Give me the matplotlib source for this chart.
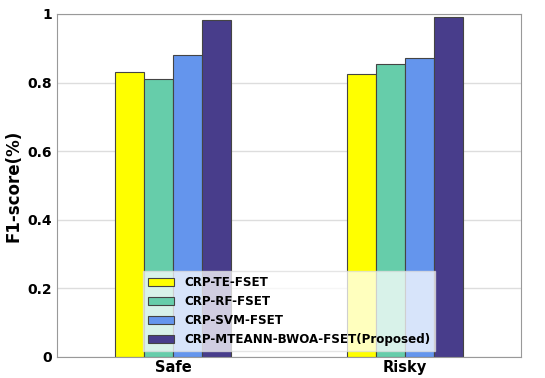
import matplotlib.pyplot as plt
import numpy as np

categories = ["Safe", "Risky"]
methods = ["CRP-TE-FSET", "CRP-RF-FSET", "CRP-SVM-FSET", "CRP-MTEANN-BWOA-FSET(Proposed)"]
te = [0.830, 0.825]
rf = [0.810, 0.854]
svm = [0.880, 0.871]
proposed = [0.982, 0.991]
colors = ["#FFFF00", "#66CDAA", "#6495ED", "#483D8B"]

fig, ax = plt.subplots(figsize=(5.45, 3.78), dpi=100)
x = np.arange(len(categories))
w = 0.125
for i, (vals, c, lab) in enumerate(zip([te, rf, svm, proposed], colors, methods)):
    ax.bar(x + (i - 1.5) * w, vals, w, color=c, edgecolor="#444444", linewidth=0.8, label=lab, zorder=2)

ax.set_xlim(-0.5, 1.5)
ax.set_ylim(0, 1)
ax.set_xticks(x)
ax.set_xticklabels(categories, fontsize=10.5, fontweight="bold")
ax.set_yticks([0, 0.2, 0.4, 0.6, 0.8, 1])
ax.set_yticklabels(["0", "0.2", "0.4", "0.6", "0.8", "1"], fontsize=10, fontweight="bold")
ax.tick_params(length=0)
ax.tick_params(axis="x", pad=2)
ax.set_ylabel("F1-score(%)", fontsize=12, fontweight="bold")
ax.grid(axis="y", color="#dddddd", linewidth=1, zorder=0)
for s in ax.spines.values():
    s.set_color("#999999")
leg = ax.legend(loc="lower center", prop={"weight": "bold", "size": 8.6}, framealpha=0.75, fancybox=False,
                handlelength=2.2)
leg.get_frame().set_edgecolor("#dddddd")

fig.subplots_adjust(left=0.105, right=0.956, top=0.963, bottom=0.056)
fig.savefig("out.png", dpi=100)
